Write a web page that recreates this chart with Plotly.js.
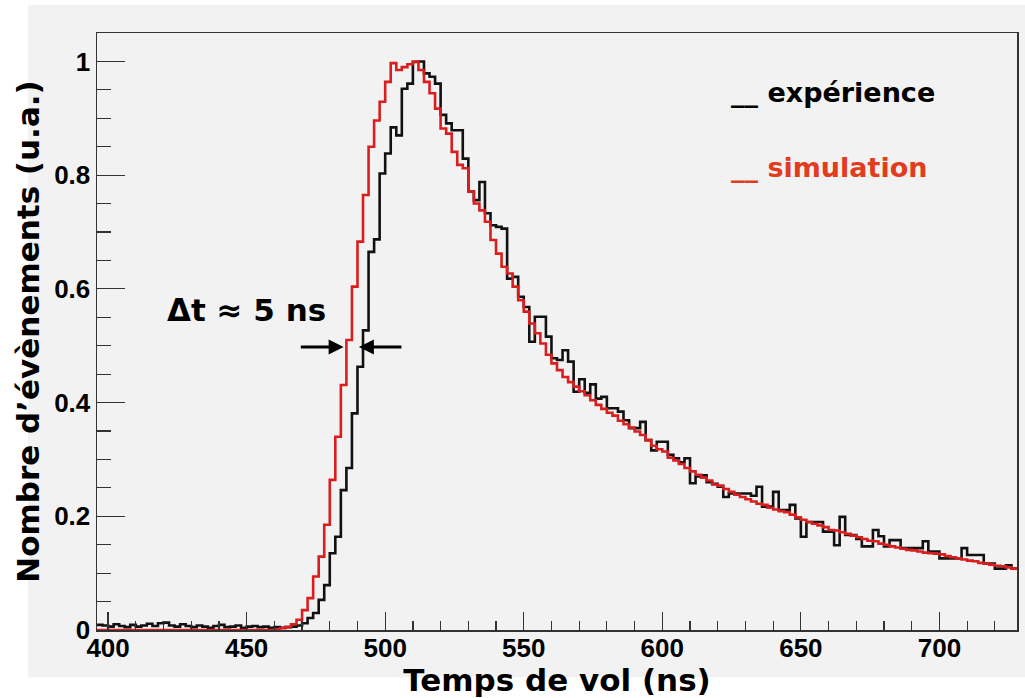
<!DOCTYPE html>
<html>
<head>
<meta charset="utf-8">
<script src="https://cdn.plot.ly/plotly-3.0.1.min.js"></script>
<style>
  html, body { margin: 0; padding: 0; background: #ffffff; }
  #chart { width: 1025px; height: 698px; }
</style>
</head>
<body>
<div id="chart"></div>
<script>
// ---- Data ----
// Histogram binning: 2 ns bins, first bin starts at 396 ns
const binLowEdge = 396;
const binWidth = 2;

// "expérience" (black histogram), one value per bin, 396 ... 726 ns
const experienceValues = [
  0.009, 0.008, 0.006, 0.010, 0.007, 0.005, 0.009, 0.006, 0.008, 0.011,
  0.007, 0.012, 0.013, 0.008, 0.006, 0.010, 0.007, 0.005, 0.008, 0.006,
  0.004, 0.007, 0.009, 0.005, 0.006, 0.008, 0.004, 0.006, 0.007, 0.005,
  0.006, 0.004, 0.005, 0.004, 0.005, 0.006, 0.008, 0.012, 0.021, 0.030,
  0.053, 0.079, 0.135, 0.164, 0.246, 0.285, 0.381, 0.463, 0.527, 0.665,
  0.687, 0.803, 0.838, 0.884, 0.870, 0.952, 0.961, 0.999, 1.000, 0.979,
  0.973, 0.961, 0.906, 0.891, 0.879, 0.879, 0.829, 0.771, 0.756, 0.788,
  0.733, 0.712, 0.709, 0.706, 0.618, 0.621, 0.586, 0.568, 0.507, 0.551,
  0.551, 0.516, 0.478, 0.475, 0.492, 0.472, 0.419, 0.441, 0.417, 0.432,
  0.407, 0.410, 0.390, 0.390, 0.384, 0.369, 0.355, 0.355, 0.366, 0.334,
  0.316, 0.331, 0.331, 0.308, 0.302, 0.295, 0.302, 0.258, 0.270, 0.272,
  0.260, 0.257, 0.252, 0.234, 0.240, 0.240, 0.240, 0.240, 0.236, 0.252,
  0.217, 0.217, 0.243, 0.211, 0.211, 0.220, 0.196, 0.164, 0.190, 0.190,
  0.190, 0.173, 0.173, 0.149, 0.199, 0.167, 0.167, 0.160, 0.147, 0.147,
  0.176, 0.165, 0.147, 0.158, 0.158, 0.144, 0.144, 0.144, 0.144, 0.156,
  0.138, 0.138, 0.126, 0.126, 0.126, 0.126, 0.144, 0.132, 0.132, 0.132,
  0.117, 0.117, 0.108, 0.108, 0.114, 0.108
];

// "simulation" (red histogram), one value per bin, 396 ... 726 ns
const simulationValues = [
  0, 0, 0, 0, 0, 0, 0, 0, 0, 0,
  0, 0, 0, 0, 0, 0, 0, 0, 0, 0,
  0, 0, 0, 0, 0, 0, 0, 0, 0, 0,
  0, 0, 0.001, 0.003, 0.005, 0.010, 0.018, 0.035, 0.056, 0.094,
  0.129, 0.185, 0.264, 0.340, 0.431, 0.510, 0.604, 0.683, 0.765, 0.850,
  0.896, 0.929, 0.964, 0.997, 0.985, 0.990, 0.995, 1.000, 0.985, 0.964,
  0.944, 0.917, 0.882, 0.873, 0.841, 0.818, 0.812, 0.771, 0.750, 0.738,
  0.718, 0.686, 0.662, 0.639, 0.627, 0.604, 0.580, 0.560, 0.539, 0.522,
  0.504, 0.484, 0.469, 0.457, 0.445, 0.436, 0.428, 0.420, 0.413, 0.404,
  0.396, 0.389, 0.382, 0.377, 0.368, 0.362, 0.356, 0.349, 0.343, 0.334,
  0.324, 0.318, 0.314, 0.303, 0.298, 0.292, 0.285, 0.279, 0.273, 0.268,
  0.263, 0.256, 0.254, 0.248, 0.243, 0.238, 0.234, 0.230, 0.226, 0.222,
  0.220, 0.215, 0.212, 0.209, 0.207, 0.203, 0.198, 0.194, 0.190, 0.187,
  0.184, 0.181, 0.176, 0.175, 0.172, 0.169, 0.166, 0.163, 0.160, 0.157,
  0.156, 0.152, 0.150, 0.147, 0.145, 0.143, 0.141, 0.140, 0.138, 0.136,
  0.135, 0.134, 0.133, 0.130, 0.128, 0.126, 0.124, 0.122, 0.121, 0.118,
  0.117, 0.115, 0.113, 0.112, 0.110, 0.108
];

const seriesNames = ['expérience', 'simulation'];
const xAxisTitle = 'Temps de vol (ns)';
const yAxisTitle = 'Nombre d’évènements (u.a.)';
const deltaLabel = 'Δt ≈ 5 ns';
// Arrow positions marking the half-height shift (ns, value)
const arrowLevel = 0.4976;
const arrowLeft = [469, 485];
const arrowRight = [506.4, 490.5];

// ---- Build step curves (histogram outline) ----
function stepTrace(values, color) {
  const x = values.map((_, i) => binLowEdge + i * binWidth);
  x.push(binLowEdge + values.length * binWidth);
  const y = values.slice();
  y.push(values[values.length - 1]);
  return {
    type: 'scatter', mode: 'lines', x: x, y: y,
    line: { shape: 'hv', color: color, width: 2.6 },
    hoverinfo: 'skip', showlegend: false
  };
}

const blackColor = '#111111';
const redColor = '#d81e1e';
const legendRed = '#e23c1e';

const traces = [
  Object.assign(stepTrace(experienceValues, blackColor), { name: seriesNames[0] }),
  Object.assign(stepTrace(simulationValues, redColor), { name: seriesNames[1] })
];

const tickFont = { family: 'Liberation Sans, Arial, sans-serif', size: 26, weight: 'bold', color: '#000' };
const titleFont = { family: 'DejaVu Sans, sans-serif', size: 31, weight: 'bold', color: '#000' };

const layout = {
  width: 1025, height: 698,
  margin: { l: 97, r: 8, t: 33, b: 68, pad: 0 },
  paper_bgcolor: '#ffffff',
  plot_bgcolor: 'rgba(0,0,0,0)',
  showlegend: false,
  xaxis: {
    range: [396, 728], tick0: 400, dtick: 50,
    ticks: 'inside', ticklen: 18, tickwidth: 1.2, tickcolor: '#333',
    showline: true, mirror: true, linecolor: '#333', linewidth: 1.5,
    showgrid: false, zeroline: false, automargin: false, fixedrange: true,
    minor: { tick0: 400, dtick: 10, ticks: 'inside', ticklen: 9, tickwidth: 1.2, tickcolor: '#333', showgrid: false },
    tickfont: tickFont,
    ticklabelstandoff: -6,
    title: { text: xAxisTitle, font: titleFont, standoff: 11 }
  },
  yaxis: {
    range: [0, 1.05], tick0: 0, dtick: 0.2,
    ticks: 'inside', ticklen: 28, tickwidth: 1.2, tickcolor: '#333',
    showline: true, mirror: true, linecolor: '#333', linewidth: 1.5,
    showgrid: false, zeroline: false, automargin: false, fixedrange: true,
    minor: { tick0: 0, dtick: 0.05, ticks: 'inside', ticklen: 14, tickwidth: 1.2, tickcolor: '#333', showgrid: false },
    tickfont: tickFont,
    title: { text: yAxisTitle, font: titleFont, standoff: 5 }
  },
  shapes: [
    { type: 'rect', xref: 'paper', yref: 'paper', x0: -0.075, x1: 1.01, y0: -0.079, y1: 1.047,
      fillcolor: '#f2f2f2', line: { width: 0 }, layer: 'below' }
  ],
  annotations: [
    { xref: 'x', yref: 'y', x: 450, y: 0.5626, text: deltaLabel, showarrow: false,
      font: { family: 'DejaVu Sans, sans-serif', size: 31, weight: 'bold', color: '#000' } },
    { xref: 'x', yref: 'y', x: arrowLeft[1], y: arrowLevel, axref: 'x', ayref: 'y',
      ax: arrowLeft[0], ay: arrowLevel, text: '', showarrow: true,
      arrowhead: 2, arrowsize: 1, arrowwidth: 3, arrowcolor: '#000' },
    { xref: 'x', yref: 'y', x: arrowRight[1], y: arrowLevel, axref: 'x', ayref: 'y',
      ax: arrowRight[0], ay: arrowLevel, text: '', showarrow: true,
      arrowhead: 2, arrowsize: 1, arrowwidth: 3, arrowcolor: '#000' },
    { xref: 'paper', yref: 'paper', x: 0.687, y: 0.901, xanchor: 'left', yanchor: 'middle',
      text: '__ ' + seriesNames[0], showarrow: false,
      font: { family: 'DejaVu Sans, sans-serif', size: 27, weight: 'bold', color: '#000' } },
    { xref: 'paper', yref: 'paper', x: 0.687, y: 0.774, xanchor: 'left', yanchor: 'middle',
      text: '__ ' + seriesNames[1], showarrow: false,
      font: { family: 'DejaVu Sans, sans-serif', size: 27, weight: 'bold', color: legendRed } }
  ]
};

Plotly.newPlot('chart', traces, layout, { displayModeBar: false, staticPlot: true });
</script>
</body>
</html>
